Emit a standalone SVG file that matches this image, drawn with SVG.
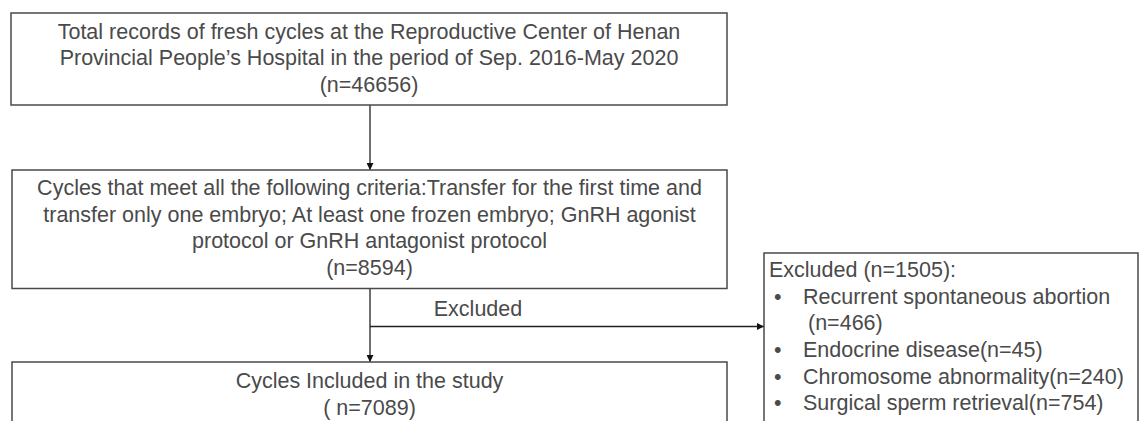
<svg xmlns="http://www.w3.org/2000/svg" width="1143" height="421" viewBox="0 0 1143 421">
<defs>
<style>
.box{fill:#ffffff;stroke:#4a4a4a;stroke-width:1.5}
.t{font-family:"Liberation Sans",Arial,sans-serif;font-size:21.5px;fill:#4a4a4a}
.c{text-anchor:middle}
.ln{fill:none;stroke:#222222;stroke-width:1.3}
</style>
<marker id="ah" viewBox="0 0 10 10" refX="10" refY="5" markerWidth="7" markerHeight="7" markerUnits="userSpaceOnUse" orient="auto">
<path d="M0,0 L10,5 L0,10 z" fill="#111111"/>
</marker>
</defs>
<rect width="1143" height="421" fill="#ffffff"/>
<g id="connectors">
<line class="ln" x1="370" y1="105" x2="370" y2="170" marker-end="url(#ah)"/>
<line class="ln" x1="370" y1="289" x2="370" y2="362" marker-end="url(#ah)"/>
<line class="ln" x1="370" y1="326.5" x2="764" y2="326.5" marker-end="url(#ah)"/>
<text class="t c" x="478" y="316">Excluded</text>
</g>
<g id="node-total">
<rect class="box" x="11" y="13" width="716" height="92"/>
<text class="t c" x="369" y="38.5">Total records of fresh cycles at the Reproductive Center of Henan</text>
<text class="t c" x="369" y="65.2">Provincial People’s Hospital in the period of Sep. 2016-May 2020</text>
<text class="t c" x="369" y="92">(n=46656)</text>
</g>
<g id="node-criteria">
<rect class="box" x="12" y="170" width="715" height="118.5"/>
<text class="t c" x="369.5" y="195">Cycles that meet all the following criteria:Transfer for the first time and</text>
<text class="t c" x="369.5" y="221.7">transfer only one embryo; At least one frozen embryo; GnRH agonist</text>
<text class="t c" x="369.5" y="248.3">protocol or GnRH antagonist protocol</text>
<text class="t c" x="369.5" y="275">(n=8594)</text>
</g>
<g id="node-included">
<rect class="box" x="12" y="362" width="715" height="80"/>
<text class="t c" x="369.5" y="388">Cycles Included in the study</text>
<text class="t c" x="369.5" y="415">( n=7089)</text>
</g>
<g id="node-excluded">
<rect class="box" x="764" y="253" width="374" height="190"/>
<text class="t" x="769" y="277">Excluded (n=1505):</text>
<text class="t" x="774" y="303.7">•</text>
<text class="t" x="803" y="303.7">Recurrent spontaneous abortion</text>
<text class="t" x="808" y="330.4">(n=466)</text>
<text class="t" x="774" y="357">•</text>
<text class="t" x="803" y="357">Endocrine disease(n=45)</text>
<text class="t" x="774" y="383.7">•</text>
<text class="t" x="803" y="383.7">Chromosome abnormality(n=240)</text>
<text class="t" x="774" y="410.4">•</text>
<text class="t" x="803" y="410.4">Surgical sperm retrieval(n=754)</text>
</g>
</svg>
